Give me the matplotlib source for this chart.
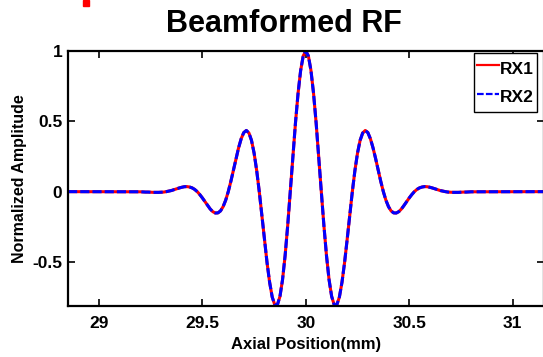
import matplotlib
matplotlib.use("Agg")
import matplotlib.pyplot as plt
from matplotlib.patches import Rectangle

# Axial sample positions (mm)
axial_mm = [
    28.85,
    29.2, 29.2125, 29.225, 29.2375, 29.25, 29.2625, 29.275, 29.2875,
    29.3, 29.3125, 29.325, 29.3375, 29.35, 29.3625, 29.375, 29.3875,
    29.4, 29.4125, 29.425, 29.4375, 29.45, 29.4625, 29.475, 29.4875,
    29.5, 29.5125, 29.525, 29.5375, 29.55, 29.5625, 29.575, 29.5875,
    29.6, 29.6125, 29.625, 29.6375, 29.65, 29.6625, 29.675, 29.6875,
    29.7, 29.7125, 29.725, 29.7375, 29.75, 29.7625, 29.775, 29.7875,
    29.8, 29.8125, 29.825, 29.8375, 29.85, 29.8625, 29.875, 29.8875,
    29.9, 29.9125, 29.925, 29.9375, 29.95, 29.9625, 29.975, 29.9875,
    30.0,
    30.0125, 30.025, 30.0375, 30.05, 30.0625, 30.075, 30.0875, 30.1,
    30.1125, 30.125, 30.1375, 30.15, 30.1625, 30.175, 30.1875, 30.2,
    30.2125, 30.225, 30.2375, 30.25, 30.2625, 30.275, 30.2875, 30.3,
    30.3125, 30.325, 30.3375, 30.35, 30.3625, 30.375, 30.3875, 30.4,
    30.4125, 30.425, 30.4375, 30.45, 30.4625, 30.475, 30.4875, 30.5,
    30.5125, 30.525, 30.5375, 30.55, 30.5625, 30.575, 30.5875, 30.6,
    30.6125, 30.625, 30.6375, 30.65, 30.6625, 30.675, 30.6875, 30.7,
    30.7125, 30.725, 30.7375, 30.75, 30.7625, 30.775, 30.7875, 30.8,
    31.15,
]

# Normalized beamformed RF amplitude, receiver 1
rx1 = [
    0.0,
    -0.001, -0.002, -0.003, -0.003, -0.004, -0.005, -0.005, -0.005,
    -0.004, -0.003, 0.000, 0.004, 0.008, 0.014, 0.020, 0.026,
    0.031, 0.035, 0.036, 0.033, 0.027, 0.016, 0.000, -0.021,
    -0.045, -0.071, -0.098, -0.123, -0.142, -0.152, -0.151, -0.137,
    -0.107, -0.061, 0.000, 0.073, 0.153, 0.236, 0.312, 0.376,
    0.420, 0.435, 0.417, 0.364, 0.274, 0.150, 0.000, -0.167,
    -0.340, -0.504, -0.644, -0.749, -0.805, -0.805, -0.745, -0.626,
    -0.454, -0.240, 0.000, 0.249, 0.488, 0.698, 0.861, 0.965,
    1.000,
    0.965, 0.861, 0.698, 0.488, 0.249, 0.000, -0.240, -0.454,
    -0.626, -0.745, -0.805, -0.805, -0.749, -0.644, -0.504, -0.340,
    -0.167, 0.000, 0.150, 0.274, 0.364, 0.417, 0.435, 0.420,
    0.376, 0.312, 0.236, 0.153, 0.073, 0.000, -0.061, -0.107,
    -0.137, -0.151, -0.152, -0.142, -0.123, -0.098, -0.071, -0.045,
    -0.021, 0.000, 0.016, 0.027, 0.033, 0.036, 0.035, 0.031,
    0.026, 0.020, 0.014, 0.008, 0.004, 0.000, -0.003, -0.004,
    -0.005, -0.005, -0.005, -0.004, -0.003, -0.003, -0.002, -0.001,
    0.0,
]

# Normalized beamformed RF amplitude, receiver 2
rx2 = [
    0.0,
    -0.001, -0.002, -0.003, -0.003, -0.004, -0.005, -0.005, -0.005,
    -0.004, -0.003, 0.000, 0.004, 0.008, 0.014, 0.020, 0.026,
    0.031, 0.035, 0.036, 0.033, 0.027, 0.016, 0.000, -0.021,
    -0.045, -0.071, -0.098, -0.123, -0.142, -0.152, -0.151, -0.137,
    -0.107, -0.061, 0.000, 0.073, 0.153, 0.236, 0.312, 0.376,
    0.420, 0.435, 0.417, 0.364, 0.274, 0.150, 0.000, -0.167,
    -0.340, -0.504, -0.644, -0.749, -0.805, -0.805, -0.745, -0.626,
    -0.454, -0.240, 0.000, 0.249, 0.488, 0.698, 0.861, 0.965,
    1.000,
    0.965, 0.861, 0.698, 0.488, 0.249, 0.000, -0.240, -0.454,
    -0.626, -0.745, -0.805, -0.805, -0.749, -0.644, -0.504, -0.340,
    -0.167, 0.000, 0.150, 0.274, 0.364, 0.417, 0.435, 0.420,
    0.376, 0.312, 0.236, 0.153, 0.073, 0.000, -0.061, -0.107,
    -0.137, -0.151, -0.152, -0.142, -0.123, -0.098, -0.071, -0.045,
    -0.021, 0.000, 0.016, 0.027, 0.033, 0.036, 0.035, 0.031,
    0.026, 0.020, 0.014, 0.008, 0.004, 0.000, -0.003, -0.004,
    -0.005, -0.005, -0.005, -0.004, -0.003, -0.003, -0.002, -0.001,
    0.0,
]

x_ticks = [29, 29.5, 30, 30.5, 31]
x_tick_labels = ["29", "29.5", "30", "30.5", "31"]
y_ticks = [-0.5, 0, 0.5, 1]
y_tick_labels = ["-0.5", "0", "0.5", "1"]

plt.rcParams["font.family"] = ["Liberation Sans", "DejaVu Sans"]
plt.rcParams["font.weight"] = "bold"

W, H = 543, 357
fig = plt.figure(figsize=(W / 100, H / 100), dpi=100)
ax = fig.add_axes([68 / W, (H - 306) / H, (543.6 - 68) / W, (306 - 51) / H])

ax.plot(axial_mm, rx1, color="#ff0000", lw=2.2, label="RX1")
ax.plot(axial_mm, rx2, color="#0000ff", lw=2.2, dashes=(3, 1), label="RX2")

ax.set_xlim(min(axial_mm), max(axial_mm))
ax.set_ylim(min(rx1) - 0.008, max(rx1))

ax.set_xticks(x_ticks)
ax.set_xticklabels(x_tick_labels, fontsize=12.5, fontweight="bold")
ax.set_yticks(y_ticks)
ax.set_yticklabels(y_tick_labels, fontsize=12.5, fontweight="bold")
ax.tick_params(direction="in", length=5, width=1.2, top=True, right=True)
ax.tick_params(axis="x", pad=7)
ax.tick_params(axis="y", pad=4)
for s in ax.spines.values():
    s.set_linewidth(1.6)

ax.set_xlabel("Axial Position(mm)", fontsize=12, fontweight="bold", labelpad=4.5)
ax.set_ylabel("Normalized Amplitude", fontsize=11.5, fontweight="bold", labelpad=4)

fig.text(284 / W, 1 - 32 / H, "Beamformed RF", ha="center", va="baseline",
         fontsize=22, fontweight="bold")

leg = ax.legend(loc="upper left", bbox_to_anchor=(474 / W, 1 - 53 / H),
                bbox_transform=fig.transFigure, fontsize=12.5,
                handlelength=1.25, handleheight=1.7, handletextpad=0.05,
                borderpad=0.2, labelspacing=0.3, borderaxespad=0,
                fancybox=False, framealpha=1, edgecolor="black")
leg.get_frame().set_linewidth(1.0)
for t in leg.get_texts():
    t.set_fontweight("bold")
for h in leg.get_lines():
    h.set_linewidth(1.6)

# Red mark at the upper-left edge
fig.patches.append(Rectangle((83 / W, 1 - 6 / H), 6 / W, 6 / H,
                             transform=fig.transFigure, color="#ff0000",
                             clip_on=False))

fig.savefig("out.png", dpi=100)
